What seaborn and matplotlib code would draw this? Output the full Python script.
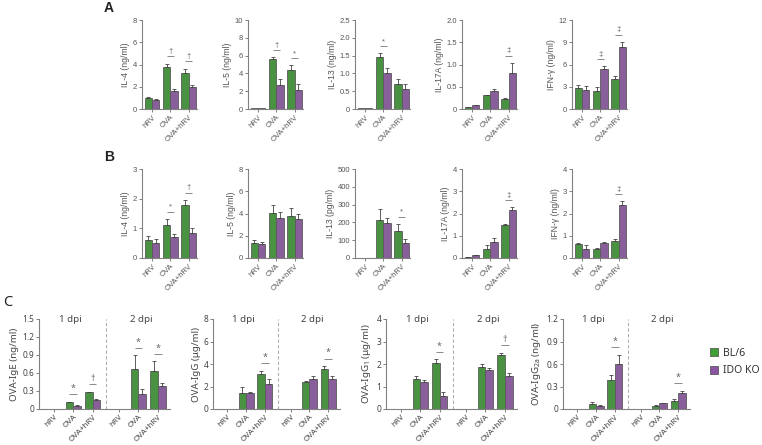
import numpy as np
import pandas as pd
import seaborn as sns
import matplotlib
matplotlib.use("Agg")
import matplotlib.pyplot as plt
from matplotlib.ticker import FuncFormatter
from matplotlib.patches import Patch

sns.set_style("ticks")
plt.rcParams["font.family"] = ["Liberation Sans", "DejaVu Sans"]
plt.rcParams["mathtext.fontset"] = "custom"
plt.rcParams["mathtext.rm"] = "Noto Sans"
plt.rcParams["axes.unicode_minus"] = False

# ---------------- data ----------------
groups = ["hRV", "OVA", "OVA+hRV"]
strains = ["BL/6", "IDO KO"]

# Panel A
a_il4_bl6 = [1.02, 3.75, 3.2]
a_il4_bl6_err = [0.05, 0.33, 0.43]
a_il4_ko = [0.85, 1.62, 1.95]
a_il4_ko_err = [0.03, 0.17, 0.17]
a_il4_sig = ["", "†", "†"]

a_il5_bl6 = [0.06, 5.58, 4.38]
a_il5_bl6_err = [0.0, 0.22, 0.52]
a_il5_ko = [0.06, 2.7, 2.13]
a_il5_ko_err = [0.0, 0.63, 0.67]
a_il5_sig = ["", "†", "*"]

a_il13_bl6 = [0.02, 1.45, 0.71]
a_il13_bl6_err = [0.0, 0.11, 0.12]
a_il13_ko = [0.02, 1.02, 0.57]
a_il13_ko_err = [0.0, 0.12, 0.14]
a_il13_sig = ["", "*", ""]

a_il17_bl6 = [0.04, 0.31, 0.22]
a_il17_bl6_err = [0.01, 0.01, 0.03]
a_il17_ko = [0.08, 0.41, 0.82]
a_il17_ko_err = [0.01, 0.03, 0.22]
a_il17_sig = ["", "", "‡"]

a_ifn_bl6 = [2.83, 2.47, 4.09]
a_ifn_bl6_err = [0.37, 0.43, 0.3]
a_ifn_ko = [2.6, 5.44, 8.3]
a_ifn_ko_err = [0.55, 0.31, 0.78]
a_ifn_sig = ["", "‡", "‡"]

# Panel B
b_il4_bl6 = [0.61, 1.12, 1.79]
b_il4_bl6_err = [0.12, 0.19, 0.17]
b_il4_ko = [0.51, 0.71, 0.84]
b_il4_ko_err = [0.12, 0.1, 0.16]
b_il4_sig = ["", "*", "†"]

b_il5_bl6 = [1.32, 4.01, 3.8]
b_il5_bl6_err = [0.3, 0.75, 0.69]
b_il5_ko = [1.29, 3.6, 3.5]
b_il5_ko_err = [0.15, 0.53, 0.45]
b_il5_sig = ["", "", ""]

b_il13_bl6 = [2, 212, 153]
b_il13_bl6_err = [0, 65, 38]
b_il13_ko = [2, 195, 85]
b_il13_ko_err = [0, 30, 20]
b_il13_sig = ["", "", "*"]

b_il17_bl6 = [0.05, 0.41, 1.47]
b_il17_bl6_err = [0.01, 0.17, 0.07]
b_il17_ko = [0.13, 0.72, 2.17]
b_il17_ko_err = [0.01, 0.18, 0.12]
b_il17_sig = ["", "", "‡"]

b_ifn_bl6 = [0.61, 0.39, 0.75]
b_ifn_bl6_err = [0.07, 0.06, 0.11]
b_ifn_ko = [0.42, 0.66, 2.38]
b_ifn_ko_err = [0.15, 0.06, 0.18]
b_ifn_sig = ["", "", "‡"]

# Panel C (1 dpi then 2 dpi)
c_ige_bl6 = [0, 0.11, 0.28, 0, 0.67, 0.64]
c_ige_bl6_err = [0, 0.015, 0.01, 0, 0.23, 0.16]
c_ige_ko = [0, 0.055, 0.145, 0, 0.25, 0.38]
c_ige_ko_err = [0, 0.008, 0.02, 0, 0.09, 0.05]
c_ige_sig = ["", "*", "†", "", "*", "*"]

c_igg_bl6 = [0, 1.46, 3.07, 0, 2.44, 3.57]
c_igg_bl6_err = [0, 0.47, 0.35, 0, 0.09, 0.27]
c_igg_ko = [0, 1.46, 2.23, 0, 2.68, 2.68]
c_igg_ko_err = [0, 0.06, 0.42, 0, 0.21, 0.27]
c_igg_sig = ["", "", "*", "", "", "*"]

c_igg1_bl6 = [0, 1.35, 2.04, 0, 1.87, 2.41]
c_igg1_bl6_err = [0, 0.12, 0.18, 0, 0.11, 0.1]
c_igg1_ko = [0, 1.22, 0.59, 0, 1.74, 1.47]
c_igg1_ko_err = [0, 0.06, 0.18, 0, 0.07, 0.15]
c_igg1_sig = ["", "", "*", "", "", "†"]

c_igg2a_bl6 = [0, 0.067, 0.39, 0, 0.04, 0.11]
c_igg2a_bl6_err = [0, 0.03, 0.07, 0, 0.01, 0.03]
c_igg2a_ko = [0, 0.04, 0.6, 0, 0.075, 0.215]
c_igg2a_ko_err = [0, 0.014, 0.125, 0, 0.005, 0.03]
c_igg2a_sig = ["", "", "*", "", "", "*"]

GREEN = "#3e9f35"
PURPLE = "#8c55a4"
EDGE = "#5a5a5a"
SPINE = "#808080"

W, H = 762, 445
fig = plt.figure(figsize=(W / 100, H / 100), dpi=100)


def fax(left, top, right, bottom):
    return fig.add_axes([left / W, 1 - bottom / H, (right - left) / W, (bottom - top) / H])


def dec_fmt(nd):
    def f(v, pos):
        if abs(v) < 1e-9:
            return "0"
        return f"{v:.{nd}f}"
    return FuncFormatter(f)


def draw(ax, xpos, bl, bl_e, ko, ko_e, sig, ymax, ystep, ylabel, font,
         tfs, lfs, sfs, nd=0, tcolor="#555555"):
    n = len(xpos)
    df = pd.DataFrame({
        "x": list(xpos) * 2,
        "val": list(bl) + list(ko),
        "strain": [strains[0]] * n + [strains[1]] * n,
    })
    sns.barplot(data=df, x="x", y="val", hue="strain", hue_order=strains,
                palette=[GREEN, PURPLE], native_scale=True, errorbar=None,
                width=0.8, edgecolor=EDGE, linewidth=0.6, legend=False, ax=ax)
    errs = [bl_e, ko_e]
    for ci, cont in enumerate(ax.containers[:2]):
        patches = sorted(cont.patches, key=lambda p: p.get_x())
        order = np.argsort(xpos)
        for k, p in zip(order, patches):
            e = errs[ci][k]
            if e <= 0:
                continue
            cx = p.get_x() + p.get_width() / 2
            h = p.get_height()
            ax.errorbar(cx, h, yerr=[[0], [e]], fmt="none", ecolor="#444444",
                        elinewidth=0.6, capsize=1.6, capthick=0.6, zorder=3)
    for j in range(n):
        if not sig[j]:
            continue
        top = max(bl[j] + bl_e[j], ko[j] + ko_e[j])
        yl = top + 0.08 * ymax
        ax.plot([xpos[j] - 0.2, xpos[j] + 0.2], [yl, yl], color="#777777", lw=0.6,
                solid_capstyle="butt", zorder=3)
        ax.text(xpos[j], yl + 0.015 * ymax, sig[j], ha="center", va="bottom",
                fontsize=sfs, color="#666666", family=font)
    ax.set_ylim(0, ymax)
    ax.set_yticks(np.arange(0, ymax + ystep / 2, ystep))
    ax.yaxis.set_major_formatter(dec_fmt(nd))
    ax.set_xlabel("")
    ax.set_ylabel(ylabel, fontsize=lfs, color=tcolor, family=font, labelpad=2)
    for s in ["top", "right"]:
        ax.spines[s].set_visible(False)
    for s in ["left", "bottom"]:
        ax.spines[s].set_color(SPINE)
        ax.spines[s].set_linewidth(0.8)
    ax.tick_params(axis="both", length=2, width=0.7, color=SPINE, pad=1.5,
                   labelsize=tfs, labelcolor=tcolor)
    for t in ax.get_yticklabels():
        t.set_family(font)


def set_xlabels(ax, xpos, labels, font, fs, tcolor):
    ax.set_xticks(xpos)
    ax.set_xticklabels(labels, rotation=45, ha="right", rotation_mode="anchor",
                       fontsize=fs, color=tcolor, family=font)


AB_FONT = ["Liberation Sans", "DejaVu Sans"]
C_FONT = ["Noto Sans", "DejaVu Sans"]
x3 = [0, 1, 2]

# ---- Row A
lefts = [142, 248, 355, 462, 572]
rowA = [
    (a_il4_bl6, a_il4_bl6_err, a_il4_ko, a_il4_ko_err, a_il4_sig, 8, 2, "IL-4 (ng/ml)", 0),
    (a_il5_bl6, a_il5_bl6_err, a_il5_ko, a_il5_ko_err, a_il5_sig, 10, 2, "IL-5 (ng/ml)", 0),
    (a_il13_bl6, a_il13_bl6_err, a_il13_ko, a_il13_ko_err, a_il13_sig, 2.5, 0.5, "IL-13 (ng/ml)", 1),
    (a_il17_bl6, a_il17_bl6_err, a_il17_ko, a_il17_ko_err, a_il17_sig, 2.0, 0.5, "IL-17A (ng/ml)", 1),
    (a_ifn_bl6, a_ifn_bl6_err, a_ifn_ko, a_ifn_ko_err, a_ifn_sig, 12, 3, "IFN-γ (ng/ml)", 0),
]
rowB = [
    (b_il4_bl6, b_il4_bl6_err, b_il4_ko, b_il4_ko_err, b_il4_sig, 3, 1, "IL-4 (ng/ml)", 0),
    (b_il5_bl6, b_il5_bl6_err, b_il5_ko, b_il5_ko_err, b_il5_sig, 8, 2, "IL-5 (ng/ml)", 0),
    (b_il13_bl6, b_il13_bl6_err, b_il13_ko, b_il13_ko_err, b_il13_sig, 500, 100, "IL-13 (pg/ml)", 0),
    (b_il17_bl6, b_il17_bl6_err, b_il17_ko, b_il17_ko_err, b_il17_sig, 4, 1, "IL-17A (ng/ml)", 0),
    (b_ifn_bl6, b_ifn_bl6_err, b_ifn_ko, b_ifn_ko_err, b_ifn_sig, 4, 1, "IFN-γ (ng/ml)", 0),
]

for row, (top, bottom) in [(rowA, (20, 109)), (rowB, (169, 258))]:
    for L, spec in zip(lefts, row):
        bl, ble, ko, koe, sg, ymax, ystep, lab, nd = spec
        ax = fax(L, top, L + 55, bottom)
        draw(ax, x3, bl, ble, ko, koe, sg, ymax, ystep, lab, AB_FONT,
             tfs=5.5, lfs=6.2, sfs=5.5, nd=nd, tcolor="#555555")
        ax.set_xlim(-0.55, 2.45)
        set_xlabels(ax, x3, groups, AB_FONT, 5.5, "#555555")

fig.text(104 / W, 1 - 8 / H, "A", fontsize=10, fontweight="bold", family=AB_FONT,
         va="center", ha="left", color="#222222")
fig.text(104 / W, 1 - 157 / H, "B", fontsize=10, fontweight="bold", family=AB_FONT,
         va="center", ha="left", color="#222222")

# ---- Row C
x6 = [0, 1, 2, 3.37, 4.37, 5.37]
labels6 = groups + groups
rowC = [
    (39, 170, c_ige_bl6, c_ige_bl6_err, c_ige_ko, c_ige_ko_err, c_ige_sig, 1.5, 0.3, "OVA-IgE (ng/ml)", 1),
    (213, 340, c_igg_bl6, c_igg_bl6_err, c_igg_ko, c_igg_ko_err, c_igg_sig, 8, 2, "OVA-IgG (μg/ml)", 0),
    (386, 517, c_igg1_bl6, c_igg1_bl6_err, c_igg1_ko, c_igg1_ko_err, c_igg1_sig, 4, 1,
     r"OVA-IgG$_\mathregular{1}$ (μg/ml)", 0),
    (563, 690, c_igg2a_bl6, c_igg2a_bl6_err, c_igg2a_ko, c_igg2a_ko_err, c_igg2a_sig, 1.2, 0.3,
     r"OVA-IgG$_\mathregular{2a}$ (ng/ml)", 1),
]
for L, R, bl, ble, ko, koe, sg, ymax, ystep, lab, nd in rowC:
    ax = fax(L, 319, R, 409)
    draw(ax, x6, bl, ble, ko, koe, sg, ymax, ystep, lab, C_FONT,
         tfs=6.0, lfs=7, sfs=6.5, nd=nd, tcolor="#444444")
    ax.set_xlim(-0.77, 6.0)
    set_xlabels(ax, x6, labels6, C_FONT, 5.7, "#444444")
    ax.tick_params(axis="x", pad=1)
    ax.axvline(2.68, color="#b0b0b0", ls=(0, (3, 2)), lw=0.8, zorder=0)
    ax.text(0.85, ymax, "1 dpi", ha="center", va="center", fontsize=7,
            family=C_FONT, color="#444444")
    ax.text(4.5, ymax, "2 dpi", ha="center", va="center", fontsize=7,
            family=C_FONT, color="#444444")

fig.text(3 / W, 1 - 303 / H, "C", fontsize=10.5, fontweight="bold", family=C_FONT,
         va="center", ha="left", color="#222222")

handles = [Patch(facecolor=GREEN, edgecolor=EDGE, linewidth=0.6, label=strains[0]),
           Patch(facecolor=PURPLE, edgecolor=EDGE, linewidth=0.6, label=strains[1])]
leg = fig.legend(handles=handles, loc="upper left", bbox_to_anchor=(710 / W, 1 - 348 / H),
                 frameon=False, handlelength=0.8, handleheight=0.8, handletextpad=0.45,
                 labelspacing=0.6, borderaxespad=0, borderpad=0,
                 prop={"family": C_FONT, "size": 7.5})
for t in leg.get_texts():
    t.set_color("#333333")

fig.savefig("out.png", dpi=100)
